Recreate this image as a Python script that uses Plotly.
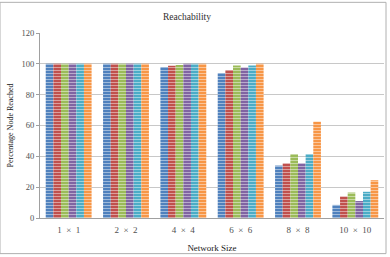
import plotly.graph_objects as go

categories = ["1 \u00a0×\u00a0 1", "2 \u00a0×\u00a0 2", "4 \u00a0×\u00a0 4", "6 \u00a0×\u00a0 6", "8 \u00a0×\u00a0 8", "10 \u00a0×\u00a0 10"]
series_names = ["S1", "S2", "S3", "S4", "S5", "S6"]
series_values = [
    [100, 100, 98, 94, 34, 8.5],
    [100, 100, 98.8, 96, 35.5, 14],
    [100, 100, 99.3, 99, 41.5, 16.5],
    [100, 100, 100, 97.6, 35.5, 11],
    [100, 100, 100, 99, 41.5, 17],
    [100, 100, 100, 100, 62.5, 24.5],
]
colors = ["#4F81BD", "#C0504D", "#9BBB59", "#8064A2", "#4BACC6", "#F79646"]
y_ticks = [0, 20, 40, 60, 80, 100, 120]

font_family = "Liberation Serif, Times New Roman, serif"

fig = go.Figure()
for name, vals, col in zip(series_names, series_values, colors):
    fig.add_trace(go.Bar(
        x=categories, y=vals, name=name,
        marker=dict(color=col, line=dict(width=0),
                    pattern=dict(shape="-", fgcolor="white", bgcolor=col,
                                 size=3, solidity=0.3)),
    ))

fig.update_layout(
    width=390, height=257,
    margin=dict(l=40, r=6, t=33, b=37),
    paper_bgcolor="white", plot_bgcolor="white",
    barmode="group", bargap=0.2, bargroupgap=0,
    showlegend=False,
    font=dict(family=font_family, size=9, color="#404040"),
    title=dict(text="Reachability", xref="container", x=187 / 390, xanchor="center",
               y=1 - 17 / 257, yanchor="middle",
               font=dict(family=font_family, size=9.5, color="#303030")),
    shapes=[dict(type="rect", xref="paper", yref="paper",
                 x0=-40 / 344, x1=1 + 2 / 344, y0=-36 / 187, y1=1 + 31 / 187,
                 line=dict(color="#b0b0b0", width=1))],
)
fig.update_xaxes(
    showline=True, linecolor="#a0a0a0", linewidth=1,
    ticks="outside", ticklen=3, tickcolor="rgba(0,0,0,0)",
    tickfont=dict(family=font_family, size=9, color="#505050"),
    title=dict(text="Network Size", font=dict(family=font_family, size=9, color="#202020"),
               standoff=10),
)
fig.update_yaxes(
    range=[0, 120], tickvals=y_ticks,
    showline=True, linecolor="#a0a0a0", linewidth=1,
    ticks="outside", ticklen=3, tickcolor="#a0a0a0",
    showgrid=True, gridcolor="#c8c8c8", gridwidth=1,
    tickfont=dict(family=font_family, size=8.5, color="#505050"),
    title=dict(text="Percentage Node Reached",
               font=dict(family=font_family, size=8, color="#202020"), standoff=6),
)

fig.write_html("out.html")
